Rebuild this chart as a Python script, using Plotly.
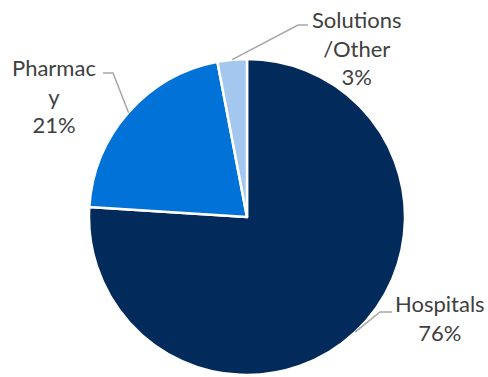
import math
import plotly.graph_objects as go

# Revenue mix by segment
categories = ["Hospitals", "Pharmacy", "Solutions/Other"]
shares = [76, 21, 3]
label_lines = ["Hospitals", "Pharmac<br>y", "Solutions<br>/Other"]
colors = ["#022A5A", "#0172D7", "#A4C7F0"]

W, H = 488, 377
CX, CY, R = 247, 217, 158  # pie centre and radius in pixels

# text centres (pixels) and elbow of each leader line
label_pos = [(440, 318), (54, 96), (357, 48)]
elbows = [((380, 312), (392, 312)), ((113, 73), (103, 73)), ((298, 25), (308, 25))]


def px(x, y):
    return x / W, 1 - y / H


fig = go.Figure(
    go.Pie(
        labels=categories,
        values=shares,
        sort=False,
        direction="clockwise",
        rotation=0,
        marker=dict(colors=colors, line=dict(color="white", width=2.5)),
        textinfo="none",
        hoverinfo="label+percent",
        showlegend=False,
        domain=dict(x=[(CX - R) / W, (CX + R) / W], y=[(H - CY - R) / H, (H - CY + R) / H]),
    )
)

total = sum(shares)
cum = 0
shapes = []
annotations = []
for name, val, lines, (tx, ty), (e1, e2) in zip(categories, shares, label_lines, label_pos, elbows):
    mid = (cum + val / 2) / total * 2 * math.pi
    cum += val
    sx = CX + R * math.sin(mid)
    sy = CY - R * math.cos(mid)
    pts = [px(sx, sy), px(*e1), px(*e2)]
    path = "M {} {} L {} {} L {} {}".format(*[c for p in pts for c in p])
    shapes.append(dict(type="path", xref="paper", yref="paper", path=path,
                       line=dict(color="#A6A6A6", width=1.5)))
    ax, ay = px(tx, ty)
    annotations.append(dict(
        x=ax, y=ay, xref="paper", yref="paper", showarrow=False,
        text=f"{lines}<br>{val}%", align="center", xanchor="center", yanchor="middle",
        font=dict(family="Lato, Open Sans, sans-serif", size=22, color="#404040"),
    ))

fig.update_layout(
    width=W, height=H,
    margin=dict(l=0, r=0, t=0, b=0),
    paper_bgcolor="white", plot_bgcolor="white",
    shapes=shapes, annotations=annotations,
)

fig.write_html("out.html")
